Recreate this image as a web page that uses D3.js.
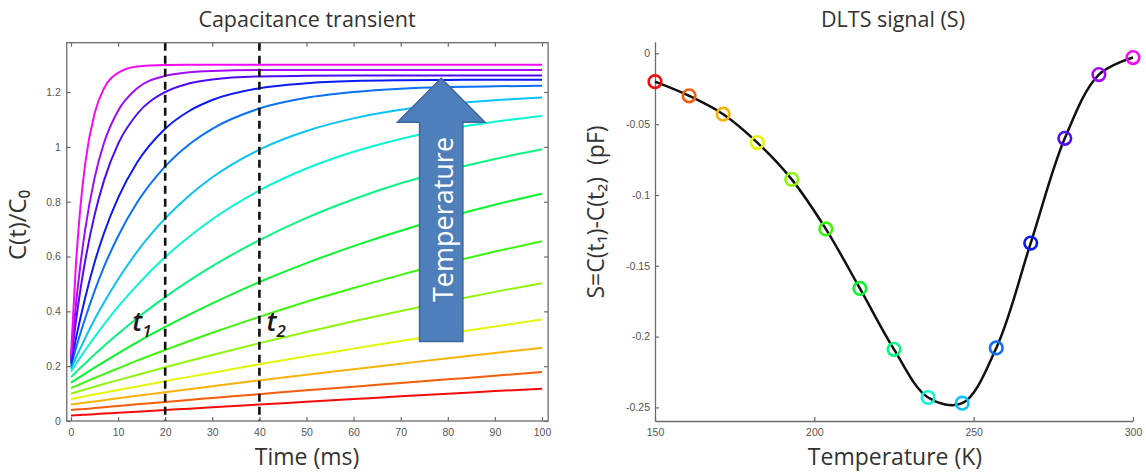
<!DOCTYPE html>
<html>
<head>
<meta charset="utf-8">
<script src="https://cdn.jsdelivr.net/npm/d3@7/dist/d3.min.js"></script>
<style>
  html, body { margin: 0; padding: 0; background: #fff; }
  svg { display: block; font-family: "Open Sans", "DejaVu Sans", sans-serif; }
</style>
</head>
<body>
<svg id="chart" width="1146" height="474"></svg>
<script>
// ---- Capacitance transients: C(t)/C0 at each temperature (red = coldest, magenta = hottest)
const times = [0, 1, 2, 3, 5, 7, 10, 14, 20, 25, 30, 40, 50, 60, 70, 80, 90, 100];
const transients = [
  [0.020, 0.021, 0.022, 0.023, 0.025, 0.027, 0.030, 0.034, 0.040, 0.045, 0.050, 0.060, 0.070, 0.080, 0.090, 0.099, 0.109, 0.118],
  [0.040, 0.042, 0.043, 0.044, 0.047, 0.050, 0.055, 0.061, 0.069, 0.077, 0.084, 0.098, 0.112, 0.125, 0.139, 0.152, 0.165, 0.179],
  [0.060, 0.062, 0.065, 0.067, 0.071, 0.076, 0.083, 0.092, 0.105, 0.116, 0.127, 0.148, 0.169, 0.189, 0.209, 0.229, 0.248, 0.267],
  [0.080, 0.083, 0.087, 0.090, 0.097, 0.103, 0.113, 0.126, 0.145, 0.161, 0.176, 0.207, 0.236, 0.264, 0.292, 0.319, 0.345, 0.370],
  [0.100, 0.105, 0.110, 0.115, 0.125, 0.135, 0.149, 0.168, 0.196, 0.219, 0.241, 0.284, 0.325, 0.364, 0.401, 0.437, 0.471, 0.503],
  [0.120, 0.127, 0.135, 0.142, 0.157, 0.171, 0.192, 0.220, 0.259, 0.291, 0.322, 0.380, 0.435, 0.485, 0.533, 0.577, 0.618, 0.656],
  [0.140, 0.151, 0.162, 0.173, 0.195, 0.216, 0.247, 0.287, 0.343, 0.387, 0.429, 0.507, 0.576, 0.638, 0.694, 0.744, 0.789, 0.829],
  [0.160, 0.177, 0.194, 0.210, 0.243, 0.274, 0.318, 0.375, 0.452, 0.511, 0.565, 0.660, 0.741, 0.809, 0.867, 0.915, 0.956, 0.991],
  [0.180, 0.207, 0.233, 0.258, 0.306, 0.352, 0.417, 0.495, 0.598, 0.671, 0.736, 0.841, 0.921, 0.982, 1.029, 1.065, 1.092, 1.113],
  [0.190, 0.229, 0.266, 0.302, 0.370, 0.432, 0.517, 0.617, 0.739, 0.821, 0.889, 0.990, 1.058, 1.104, 1.135, 1.156, 1.170, 1.180],
  [0.200, 0.262, 0.320, 0.374, 0.474, 0.562, 0.674, 0.796, 0.929, 1.008, 1.066, 1.140, 1.179, 1.200, 1.212, 1.218, 1.221, 1.223],
  [0.210, 0.297, 0.376, 0.449, 0.578, 0.685, 0.814, 0.942, 1.066, 1.130, 1.171, 1.214, 1.232, 1.240, 1.243, 1.244, 1.245, 1.245],
  [0.220, 0.358, 0.479, 0.583, 0.751, 0.877, 1.011, 1.119, 1.200, 1.231, 1.246, 1.257, 1.259, 1.260, 1.260, 1.260, 1.260, 1.260],
  [0.230, 0.417, 0.570, 0.697, 0.886, 1.014, 1.132, 1.213, 1.259, 1.272, 1.277, 1.280, 1.280, 1.280, 1.280, 1.280, 1.280, 1.280],
  [0.240, 0.558, 0.781, 0.937, 1.122, 1.213, 1.270, 1.293, 1.299, 1.300, 1.300, 1.300, 1.300, 1.300, 1.300, 1.300, 1.300, 1.300]
];
const rateWindow = [20, 40];            // t1, t2 in ms
const timeTicks = [0, 10, 20, 30, 40, 50, 60, 70, 80, 90, 100];
const capTicks = [0, 0.2, 0.4, 0.6, 0.8, 1, 1.2];
const capTickLabels = ["0", "0.2", "0.4", "0.6", "0.8", "1", "1.2"];

// ---- DLTS signal S = C(t1) - C(t2) against temperature
const temperatures = [150, 160.7, 171.4, 182.1, 192.9, 203.6, 214.3, 225, 235.7, 246.4, 257.1, 267.9, 278.6, 289.3, 300];
const signal = [-0.020, -0.030, -0.043, -0.063, -0.089, -0.124, -0.166, -0.209, -0.243, -0.247, -0.208, -0.134, -0.060, -0.015, -0.003];
const tempTicks = [150, 200, 250, 300];
const tempTickLabels = ["150", "200", "250", "300"];
const signalTicks = [0, -0.05, -0.1, -0.15, -0.2, -0.25];
const signalTickLabels = ["0", "-0.05", "-0.1", "-0.15", "-0.2", "-0.25"];

// one hue per temperature, red through magenta
const hues = [0, 21, 43, 64, 86, 107, 129, 150, 171, 193, 214, 236, 257, 279, 300];
const colorOf = i => d3.hsl(hues[i], 0.92, 0.5).formatHex();

const svg = d3.select("#chart");
const axisGrey = "#6b6b6b";
const tickText = "#555";
const labelText = "#333";

// =================== Left panel: capacitance transients ===================
const xL = d3.scaleLinear().domain([0, 100]).range([71, 542]);
const yL = d3.scaleLinear().domain([0, 1.38]).range([421, 42.7]);
const left = svg.append("g");

const frameL = { x0: xL(-0.9), x1: xL(101.3), y0: yL(1.38), y1: yL(0) };

function styleAxis(g, showText) {
  g.select(".domain").remove();
  g.selectAll(".tick line").attr("stroke", axisGrey).attr("stroke-width", 1.2);
  g.selectAll(".tick text").attr("fill", tickText).style("font-size", "10.5px")
    .style("font-family", "'Liberation Sans', Arial, sans-serif")
    .attr("display", showText ? null : "none");
}

left.append("g").attr("transform", `translate(0,${frameL.y1})`)
  .call(d3.axisBottom(xL).tickValues(timeTicks).tickSize(-4).tickPadding(8).tickFormat(d3.format("d")))
  .call(g => styleAxis(g, true));
left.append("g").attr("transform", `translate(0,${frameL.y0})`)
  .call(d3.axisTop(xL).tickValues(timeTicks).tickSize(-4))
  .call(g => styleAxis(g, false));
left.append("g").attr("transform", `translate(${frameL.x0},0)`)
  .call(d3.axisLeft(yL).tickValues(capTicks).tickSize(-4).tickPadding(6)
    .tickFormat((d, i) => capTickLabels[i]))
  .call(g => styleAxis(g, true));
left.append("g").attr("transform", `translate(${frameL.x1},0)`)
  .call(d3.axisRight(yL).tickValues(capTicks).tickSize(-4))
  .call(g => styleAxis(g, false));

const lineL = d3.line()
  .x((d, i) => xL(times[i]))
  .y(d => yL(d))
  .curve(d3.curveMonotoneX);

left.append("g").selectAll("path").data(transients).join("path")
  .attr("d", lineL)
  .attr("fill", "none")
  .attr("stroke", (d, i) => colorOf(i))
  .attr("stroke-width", 2);

// sampling instants t1 and t2
left.append("g").selectAll("line").data(rateWindow).join("line")
  .attr("x1", d => xL(d)).attr("x2", d => xL(d))
  .attr("y1", frameL.y0).attr("y2", frameL.y1)
  .attr("stroke", "#111").attr("stroke-width", 2.6)
  .attr("stroke-dasharray", "8,5");

left.append("rect")
  .attr("x", frameL.x0).attr("y", frameL.y0)
  .attr("width", frameL.x1 - frameL.x0).attr("height", frameL.y1 - frameL.y0)
  .attr("fill", "none").attr("stroke", axisGrey).attr("stroke-width", 1.3);

// t1 / t2 annotations
const tLabels = [{ t: 13, sub: "1" }, { t: 41.5, sub: "2" }];
tLabels.forEach(d => {
  const tx = left.append("text")
    .attr("x", xL(d.t)).attr("y", yL(0.33))
    .attr("fill", "#1a1a1a")
    .style("font-family", "'Open Sans', sans-serif")
    .style("font-style", "italic").style("font-weight", "600")
    .style("font-size", "27px");
  tx.append("tspan").text("t");
  tx.append("tspan").attr("dy", 6).style("font-size", "17px").text(d.sub);
});

// temperature arrow
const arrow = { x: 78.6, tipY: 1.25, headY: 1.09, baseY: 0.29, half: 4.6, headHalf: 9.3 };
const ap = [
  [xL(arrow.x), yL(arrow.tipY)],
  [xL(arrow.x + arrow.headHalf), yL(arrow.headY)],
  [xL(arrow.x + arrow.half), yL(arrow.headY)],
  [xL(arrow.x + arrow.half), yL(arrow.baseY)],
  [xL(arrow.x - arrow.half), yL(arrow.baseY)],
  [xL(arrow.x - arrow.half), yL(arrow.headY)],
  [xL(arrow.x - arrow.headHalf), yL(arrow.headY)]
];
left.append("polygon")
  .attr("points", ap.map(p => p.join(",")).join(" "))
  .attr("fill", "#4f7fbb").attr("stroke", "#3d679c").attr("stroke-width", 1.5);
left.append("text")
  .attr("transform", `translate(${xL(arrow.x) + 1},${yL(0.735)}) rotate(-90)`)
  .attr("text-anchor", "middle").attr("dominant-baseline", "central")
  .attr("fill", "#fff").style("font-size", "27px")
  .text("Temperature");

// titles and axis labels
left.append("text").attr("x", 307).attr("y", 27).attr("text-anchor", "middle")
  .attr("fill", labelText).style("font-size", "21.5px").text("Capacitance transient");
left.append("text").attr("x", 307).attr("y", 465).attr("text-anchor", "middle")
  .attr("fill", labelText).style("font-size", "23px").text("Time (ms)");
left.append("text").attr("transform", "translate(26,225) rotate(-90)")
  .attr("text-anchor", "middle")
  .attr("fill", labelText).style("font-size", "24px").text("C(t)/C\u2080");

// =================== Right panel: DLTS signal ===================
const xR = d3.scaleLinear().domain([150, 300]).range([655, 1133]);
const yR = d3.scaleLinear().domain([-0.2596, 0.0082]).range([421, 41.7]);
const right = svg.append("g");

right.append("g").attr("transform", `translate(0,${yR.range()[0]})`)
  .call(d3.axisBottom(xR).tickValues(tempTicks).tickSize(-4).tickSizeOuter(0).tickPadding(8)
    .tickFormat((d, i) => tempTickLabels[i]))
  .call(g => {
    g.select(".domain").attr("stroke", axisGrey).attr("stroke-width", 1.3);
    g.selectAll(".tick line").attr("stroke", axisGrey).attr("stroke-width", 1.2);
    g.selectAll(".tick text").attr("fill", tickText).style("font-size", "10.5px")
      .style("font-family", "'Liberation Sans', Arial, sans-serif");
  });
right.append("g").attr("transform", `translate(${xR.range()[0]},0)`)
  .call(d3.axisLeft(yR).tickValues(signalTicks).tickSize(-4).tickSizeOuter(0).tickPadding(5)
    .tickFormat((d, i) => signalTickLabels[i]))
  .call(g => {
    g.select(".domain").attr("stroke", axisGrey).attr("stroke-width", 1.3);
    g.selectAll(".tick line").attr("stroke", axisGrey).attr("stroke-width", 1.2);
    g.selectAll(".tick text").attr("fill", tickText).style("font-size", "10.5px")
      .style("font-family", "'Liberation Sans', Arial, sans-serif");
  });

const lineR = d3.line()
  .x((d, i) => xR(temperatures[i]))
  .y(d => yR(d))
  .curve(d3.curveCatmullRom.alpha(0.5));

right.append("path").datum(signal)
  .attr("d", lineR)
  .attr("fill", "none").attr("stroke", "#111").attr("stroke-width", 2.5);

right.append("g").selectAll("circle").data(signal).join("circle")
  .attr("cx", (d, i) => xR(temperatures[i]))
  .attr("cy", d => yR(d))
  .attr("r", 6.3)
  .attr("fill", "none")
  .attr("stroke", (d, i) => colorOf(i))
  .attr("stroke-width", 2.6);

right.append("text").attr("x", 893).attr("y", 27).attr("text-anchor", "middle")
  .attr("fill", labelText).style("font-size", "21.5px").text("DLTS signal (S)");
right.append("text").attr("x", 895).attr("y", 465).attr("text-anchor", "middle")
  .attr("fill", labelText).style("font-size", "23px").text("Temperature (K)");
right.append("text").attr("transform", "translate(604,212) rotate(-90)")
  .attr("text-anchor", "middle").style("white-space", "pre")
  .attr("fill", labelText).style("font-size", "23px").text("S=C(t\u2081)-C(t\u2082)  (pF)");
</script>
</body>
</html>
